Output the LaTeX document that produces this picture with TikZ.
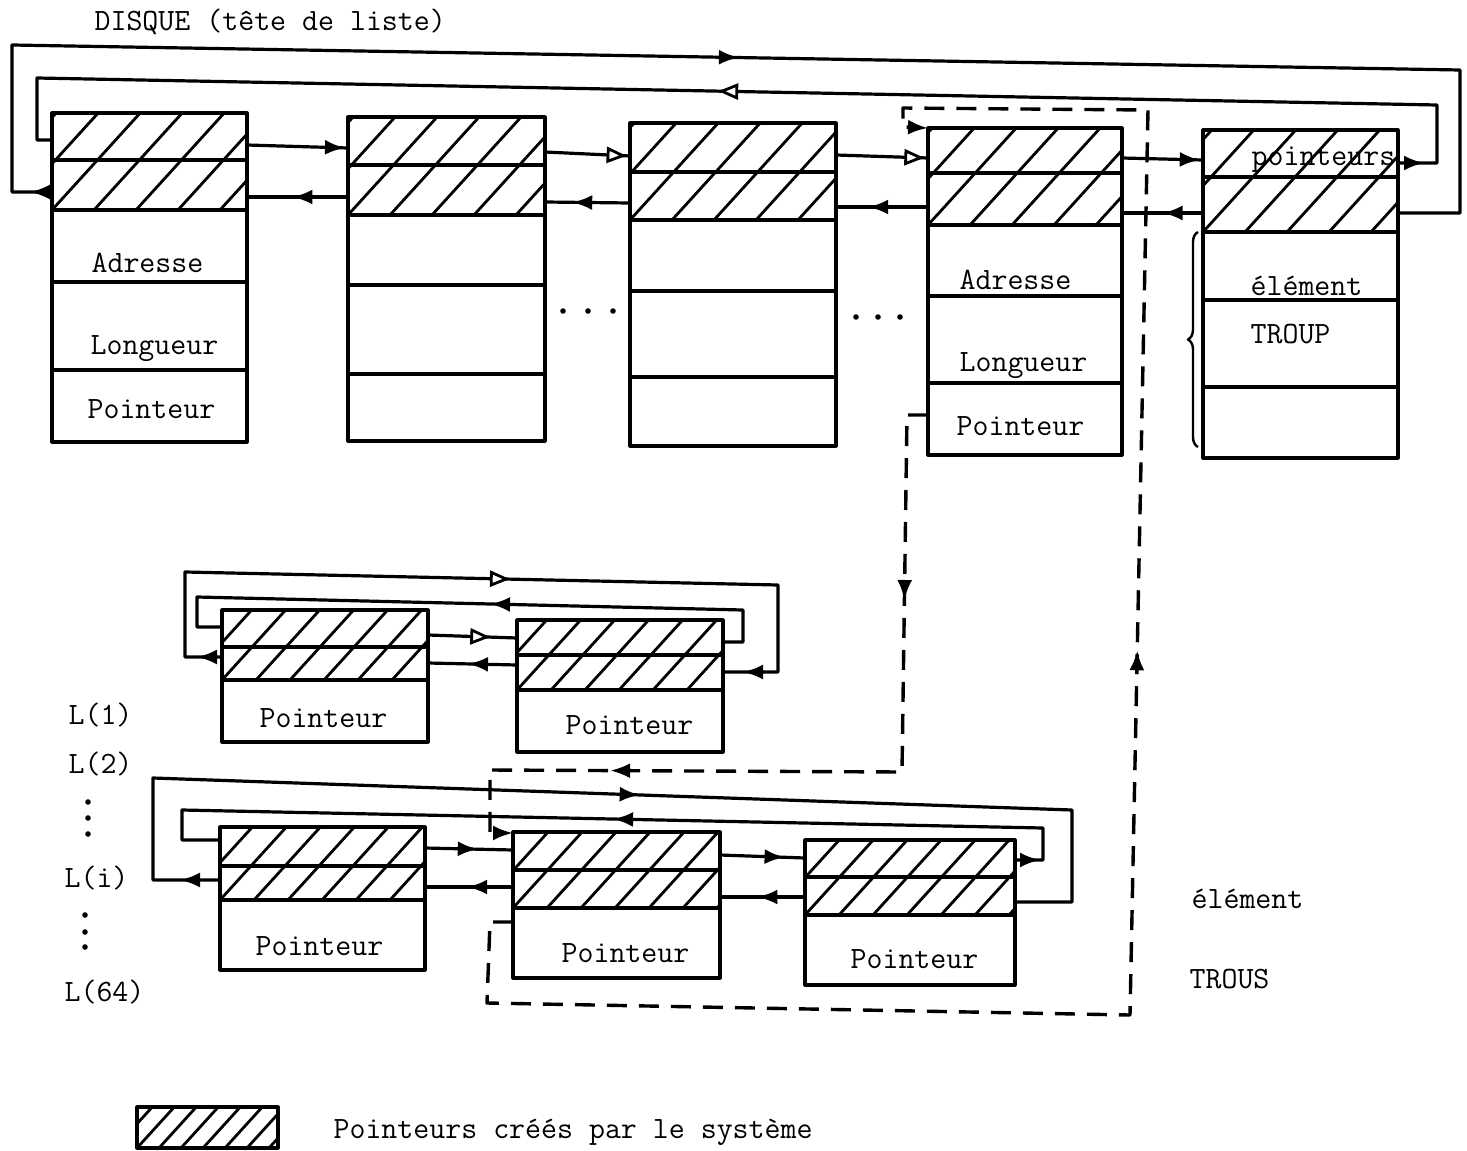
\documentclass[tikz,border=0pt]{standalone}
\usetikzlibrary{arrows.meta,decorations.markings,decorations.pathreplacing,calc,fit}
\newcommand\hatchcell[5]{%
  \begin{scope}
    \clip (#1,#2) rectangle (#3,#4);
    \foreach \k in {-4,...,12}
      \draw[hatchline] ($(#1,#4)+(\k*#5,0)$) +(-120,132) -- +(240,-264);
  \end{scope}}
\begin{document}
\begin{tikzpicture}[x=0.5pt,y=-0.5pt,
  line width=1.6pt, line join=round,
  cellframe/.style={draw, line width=1.6pt, inner sep=0pt, outer sep=0pt},
  hatchline/.style={line width=1.4pt},
  divider/.style={line width=1.6pt},
  lab/.style={font=\fontsize{15.5}{18}\selectfont\ttfamily, inner sep=0pt, anchor=base west},
  dashline/.style={line width=1.7pt, dash pattern=on 10pt off 6pt},
  af/.style={postaction={decorate,decoration={markings,mark=at position #1 with {\arrow{Latex[length=10pt,width=7.5pt]}}}}},
  ao/.style={postaction={decorate,decoration={markings,mark=at position #1 with {\arrow{Triangle[length=10pt,width=8pt,fill=white,line width=1.4pt]}}}}},
  endarr/.style={-{Latex[length=10pt,width=7.5pt]}},
]
\useasboundingbox (0,0) rectangle (1467,1151);

% ---------- top row (DISQUE) ----------
\hatchcell{52}{113}{247}{210}{42}
\node[cellframe, fit={(52,113) (247,442)}] (b1) {};
\foreach \yy in {160,210,282,370} \draw[divider] (52,\yy) -- (247,\yy);

\hatchcell{348}{117}{545}{215}{42}
\node[cellframe, fit={(348,117) (545,441)}] (b2) {};
\foreach \yy in {165,215,285,374} \draw[divider] (348,\yy) -- (545,\yy);

\hatchcell{630}{123}{836}{220}{42}
\node[cellframe, fit={(630,123) (836,446)}] (b3) {};
\foreach \yy in {172,220,291,377} \draw[divider] (630,\yy) -- (836,\yy);

\hatchcell{928}{128}{1122}{225}{42}
\node[cellframe, fit={(928,128) (1122,455)}] (b4) {};
\foreach \yy in {173,225,296,383} \draw[divider] (928,\yy) -- (1122,\yy);

\hatchcell{1203}{130}{1398}{232}{42}
\node[cellframe, fit={(1203,130) (1398,458)}] (b5) {};
\foreach \yy in {177,232,300,387} \draw[divider] (1203,\yy) -- (1398,\yy);

% texts top row
\node[lab] (title) at (93,31) {DISQUE (tête de liste)};
\node[lab] (b1a) at (90,272) {Adresse};
\node[lab] (b1l) at (89,354) {Longueur};
\node[lab] (b1p) at (86,418) {Pointeur};
\node[lab] (b4a) at (958,289) {Adresse};
\node[lab] (b4l) at (958,371) {Longueur};
\node[lab] (b4p) at (955,435) {Pointeur};
\node[lab] (b5p) at (1250,165) {pointeurs};
\node[lab] (b5e) at (1249,295) {élément};
\node[lab] (b5t) at (1249,343) {TROUP};

% dots between boxes
\foreach \xx in {563,588,613} \fill (\xx,311) circle (2.8);
\foreach \xx in {856,878,900} \fill (\xx,317) circle (2.8);

% brace left of b5
\draw[line width=1.2pt, decorate, decoration={brace, amplitude=5pt}] (1198,447) -- (1198,232);

% arrows between top boxes
\draw[af=0.97] ($(b1.north east)+(0,32)$) -- ($(b2.north west)+(0,31)$);
\draw[af=0.55] ($(b2.north west)+(0,80)$) -- ($(b1.north east)+(0,84)$);
\draw[ao=0.96] ($(b2.north east)+(0,35)$) -- ($(b3.north west)+(0,33)$);
\draw[af=0.68] ($(b3.north west)+(0,80)$) -- ($(b2.north east)+(0,85)$);
\draw[ao=0.96] ($(b3.north east)+(0,32)$) -- ($(b4.north west)+(0,30)$);
\draw[af=0.65] ($(b4.north west)+(0,79)$) -- ($(b3.north east)+(0,84)$);
\draw[af=0.96] ($(b4.north east)+(0,30)$) -- ($(b5.north west)+(0,30)$);
\draw[af=0.5]  ($(b5.north west)+(0,83)$) -- ($(b4.north east)+(0,85)$);

% loops top
\draw[af=13pt, ao=408pt] ($(b5.north east)+(0,33)$) -- (1437,163) -- (1437,105) -- (37,78) -- (37,140) -- ($(b1.north west)+(0,27)$);
\draw[af=11pt, af=457pt] ($(b1.north west)+(0,79)$) -- (12,192) -- (12,45) -- (1460,70) -- (1460,213) -- ($(b5.north east)+(0,83)$);

% ---------- L(1) list ----------
\hatchcell{222}{610}{428}{680}{34}
\node[cellframe, fit={(222,610) (428,742)}] (A) {};
\foreach \yy in {647,680} \draw[divider] (222,\yy) -- (428,\yy);
\hatchcell{517}{620}{723}{690}{34}
\node[cellframe, fit={(517,620) (723,752)}] (B) {};
\foreach \yy in {655,690} \draw[divider] (517,\yy) -- (723,\yy);
\node[lab] (Ap) at (258,727) {Pointeur};
\node[lab] (Bp) at (564,734) {Pointeur};

\draw[ao=0.7] ($(A.north east)+(0,25)$) -- ($(B.north west)+(0,18)$);
\draw[af=0.55] ($(B.north west)+(0,45)$) -- ($(A.north east)+(0,53)$);
\draw[af=12.5pt, ao=223.5pt, af=-10pt] ($(A.north west)+(0,47)$) -- (185,657) -- (185,572) -- (778,585) -- (778,672) -- ($(B.north east)+(0,52)$);
\draw[af=152.5pt] ($(B.north east)+(0,22)$) -- (743,642) -- (743,610) -- (197,597) -- (197,627) -- ($(A.north west)+(0,17)$);

% ---------- L(i) list ----------
\hatchcell{220}{827}{425}{900}{34}
\node[cellframe, fit={(220,827) (425,970)}] (C) {};
\foreach \yy in {866,900} \draw[divider] (220,\yy) -- (425,\yy);
\hatchcell{513}{832}{720}{908}{34}
\node[cellframe, fit={(513,832) (720,978)}] (D) {};
\foreach \yy in {870,908} \draw[divider] (513,\yy) -- (720,\yy);
\hatchcell{805}{840}{1015}{915}{34}
\node[cellframe, fit={(805,840) (1015,985)}] (E) {};
\foreach \yy in {877,915} \draw[divider] (805,\yy) -- (1015,\yy);
\node[lab] (Cp) at (254,955) {Pointeur};
\node[lab] (Dp) at (560,962) {Pointeur};
\node[lab] (Ep) at (849,968) {Pointeur};

\draw[af=0.6]  ($(C.north east)+(0,21)$) -- ($(D.north west)+(0,18)$);
\draw[af=0.52] ($(D.north west)+(0,55)$) -- ($(C.north east)+(0,60)$);
\draw[af=0.76] ($(D.north east)+(0,23)$) -- ($(E.north west)+(0,18)$);
\draw[af=0.56] ($(E.north west)+(0,57)$) -- ($(D.north east)+(0,65)$);
\draw[af=20pt, af=328pt] ($(C.north west)+(0,53)$) -- (153,880) -- (153,778) -- (1072,810) -- (1072,902) -- ($(E.north east)+(0,62)$);
\draw[af=12.5pt, af=245pt] ($(E.north east)+(0,20)$) -- (1043,860) -- (1043,828) -- (182,810) -- (182,840) -- ($(C.north west)+(0,13)$);

% ---------- dashed links ----------
\draw[dashline, endarr, af=103pt, af=335pt] ($(b4.north west)+(0,287)$) -- (907,415) -- (902,772) -- (490,770) -- (490,833) -- ($(D.north west)+(0,1)$);
\draw[dashline, endarr, af=556pt] ($(D.north west)+(0,90)$) -- (490,922) -- (487,1003) -- (1130,1015) -- (1148,110) -- (903,108) -- (903,127) -- (b4.north west);

% ---------- left labels ----------
\node[lab] (L1) at (67,724) {L(1)};
\node[lab] (L2) at (67,773) {L(2)};
\node[lab] (Li) at (63,887) {L(i)};
\node[lab] (L64) at (63,1001) {L(64)};
\foreach \yy in {802,818,834} \fill (88,\yy) circle (2.8);
\foreach \yy in {915,932,947} \fill (85,\yy) circle (2.8);

% right labels
\node[lab] (re) at (1190,908) {élément};
\node[lab] (rt) at (1188,988) {TROUS};

% ---------- legend ----------
\hatchcell{137}{1107}{278}{1148}{22}
\node[cellframe, fit={(137,1107) (278,1148)}] (legend) {};
\node[lab] (legtext) at (332,1138) {Pointeurs créés par le système};
\end{tikzpicture}
\end{document}
